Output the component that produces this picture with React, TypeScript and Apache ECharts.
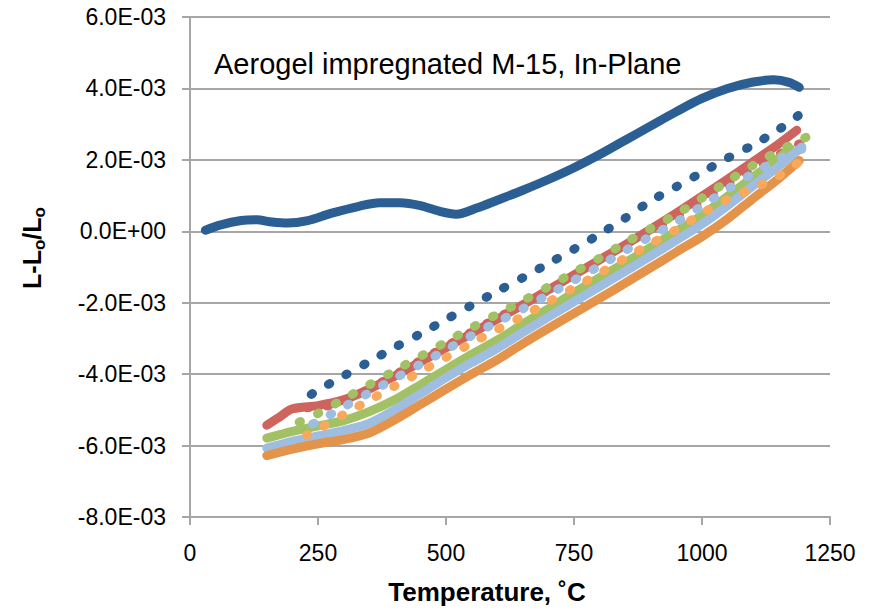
import React, { useEffect, useRef } from "react";
import * as echarts from "echarts";

// ---- Data (values in units of 1e-3) ----
const heat1T = [30, 60, 100, 130, 160, 190, 230, 275, 330, 370, 410, 450, 490, 520, 560, 600, 650, 700, 750, 800, 850, 900, 950, 1000, 1050, 1100, 1140, 1170, 1190];
const heat1V = [0.03, 0.18, 0.3, 0.32, 0.26, 0.23, 0.3, 0.5, 0.7, 0.8, 0.8, 0.72, 0.55, 0.48, 0.65, 0.87, 1.15, 1.45, 1.78, 2.15, 2.55, 2.95, 3.35, 3.72, 4.0, 4.18, 4.24, 4.17, 4.03];

const cool1T = [1188, 1150, 1100, 1050, 1000, 950, 900, 850, 800, 750, 700, 650, 600, 550, 500, 450, 400, 350, 300, 250, 230];
const cool1V = [3.24, 2.85, 2.42, 2.05, 1.65, 1.25, 0.85, 0.37, -0.08, -0.5, -0.9, -1.3, -1.68, -2.07, -2.47, -2.87, -3.25, -3.65, -4.05, -4.45, -4.63];

const heat2T = [150, 175, 200, 250, 300, 350, 400, 450, 500, 550, 600, 650, 700, 750, 800, 850, 900, 950, 1000, 1050, 1100, 1150, 1185];
const heat2V = [-5.43, -5.2, -4.97, -4.88, -4.72, -4.42, -4.05, -3.66, -3.26, -2.86, -2.46, -2.06, -1.64, -1.22, -0.8, -0.38, 0.06, 0.51, 0.98, 1.46, 1.95, 2.45, 2.83];

const cool2T = [1191, 1150, 1100, 1050, 1000, 950, 900, 850, 800, 750, 700, 650, 600, 550, 500, 450, 400, 350, 300, 250, 200];
const cool2V = [2.45, 2.15, 1.75, 1.3, 0.83, 0.38, -0.03, -0.43, -0.85, -1.25, -1.66, -2.06, -2.43, -2.82, -3.22, -3.62, -4.02, -4.42, -4.8, -4.92, -4.95];

const heat3T = [150, 200, 250, 300, 350, 400, 450, 500, 550, 600, 650, 700, 750, 800, 850, 900, 950, 1000, 1050, 1100, 1150, 1172];
const heat3V = [-5.79, -5.6, -5.45, -5.3, -5.05, -4.72, -4.3, -3.87, -3.45, -3.05, -2.6, -2.17, -1.72, -1.3, -0.88, -0.45, 0.0, 0.45, 0.98, 1.52, 2.05, 2.32];

const cool3T = [1203, 1150, 1100, 1050, 1000, 950, 900, 850, 800, 750, 700, 650, 600, 550, 500, 450, 400, 350, 300, 250, 209];
const cool3V = [2.63, 2.25, 1.85, 1.4, 0.93, 0.48, 0.08, -0.32, -0.75, -1.15, -1.55, -1.95, -2.32, -2.7, -3.1, -3.5, -3.9, -4.3, -4.7, -5.1, -5.37];

const heat4T = [150, 200, 250, 300, 350, 400, 450, 500, 550, 600, 650, 700, 750, 800, 850, 900, 950, 1000, 1050, 1100, 1150, 1195];
const heat4V = [-6.07, -5.88, -5.73, -5.58, -5.38, -5.0, -4.55, -4.1, -3.68, -3.28, -2.83, -2.4, -1.97, -1.55, -1.12, -0.69, -0.25, 0.2, 0.72, 1.28, 1.82, 2.36];

const cool4T = [1195, 1150, 1100, 1050, 1000, 950, 900, 850, 800, 750, 700, 650, 600, 550, 500, 450, 400, 350, 300, 250, 215];
const cool4V = [2.3, 2.02, 1.62, 1.18, 0.71, 0.26, -0.14, -0.54, -0.97, -1.37, -1.77, -2.17, -2.54, -2.92, -3.32, -3.72, -4.12, -4.52, -4.92, -5.32, -5.57];

const heat5T = [150, 200, 250, 300, 350, 400, 450, 500, 550, 600, 650, 700, 750, 800, 850, 900, 950, 1000, 1050, 1100, 1150, 1190];
const heat5V = [-6.28, -6.1, -5.95, -5.83, -5.65, -5.28, -4.85, -4.42, -4.0, -3.6, -3.15, -2.72, -2.3, -1.88, -1.45, -1.02, -0.58, -0.15, 0.35, 0.92, 1.48, 1.98];

const cool5T = [1186, 1150, 1100, 1050, 1000, 950, 900, 850, 800, 750, 700, 650, 600, 550, 500, 450, 400, 350, 300, 250, 228];
const cool5V = [1.9, 1.55, 1.2, 0.9, 0.5, 0.05, -0.35, -0.75, -1.18, -1.58, -1.98, -2.38, -2.75, -3.13, -3.53, -3.93, -4.33, -4.73, -5.13, -5.55, -5.71];

const xTickValues = [0, 250, 500, 750, 1000, 1250];
const yTickValues = [-8e-3, -6e-3, -4e-3, -2e-3, 0, 2e-3, 4e-3, 6e-3];

const chartTitle = "Aerogel impregnated M-15, In-Plane";
const xAxisTitle = "Temperature, \u02DAC";

const C = {
  dblue: "#2b5e92",
  red: "#cd645e",
  green: "#a2c164",
  lblue: "#9ebde0",
  orange: "#e4944a",
  lorange: "#f8a95c",
  grid: "#a6a6a6",
};

const seriesDefs = [
  { name: "Heat 1", T: heat1T, V: heat1V, color: C.dblue, dotted: false },
  { name: "Cool 1", T: cool1T, V: cool1V, color: C.dblue, dotted: true },
  { name: "Heat 2", T: heat2T, V: heat2V, color: C.red, dotted: false },
  { name: "Cool 2", T: cool2T, V: cool2V, color: C.red, dotted: true },
  { name: "Heat 3", T: heat3T, V: heat3V, color: C.green, dotted: false },
  { name: "Cool 3", T: cool3T, V: cool3V, color: C.green, dotted: true },
  { name: "Heat 4", T: heat4T, V: heat4V, color: C.lblue, dotted: false },
  { name: "Cool 4", T: cool4T, V: cool4V, color: C.lblue, dotted: true },
  { name: "Heat 5", T: heat5T, V: heat5V, color: C.orange, dotted: false },
  { name: "Cool 5", T: cool5T, V: cool5V, color: C.lorange, dotted: true },
];

function fmtY(v: number): string {
  if (Math.abs(v) < 1e-12) return "0.0E+00";
  const s = v.toExponential(1);
  const [m, e] = s.split("e");
  const sign = e[0];
  const digits = e.slice(1).padStart(2, "0");
  return m + "E" + sign + digits;
}

const FONT = "'Liberation Sans', Arial, sans-serif";

export default function App() {
  const ref = useRef<HTMLDivElement>(null);
  useEffect(() => {
    if (!ref.current) return;
    const chart = echarts.init(ref.current, undefined, { renderer: "svg" });
    const series = seriesDefs.map((s) => ({
      name: s.name,
      type: "line",
      data: s.T.map((t, i) => [t, s.V[i] * 1e-3]),
      showSymbol: false,
      symbol: "none",
      smooth: 0.3,
      silent: true,
      lineStyle: {
        width: 9,
        color: s.color,
        type: s.dotted ? [1.5, 18.5] : "solid",
        cap: "round",
        join: "round",
      },
    }));
    chart.setOption({
      animation: false,
      backgroundColor: "#ffffff",
      grid: { left: 190, right: 47, top: 17, bottom: 97, containLabel: false },
      xAxis: {
        type: "value",
        min: xTickValues[0],
        max: xTickValues[xTickValues.length - 1],
        interval: 250,
        axisLine: { show: true, onZero: false, lineStyle: { color: C.grid, width: 2 } },
        axisTick: { show: true, length: 8, lineStyle: { color: C.grid, width: 2 } },
        splitLine: { show: false },
        axisLabel: {
          color: "#000",
          fontSize: 23,
          fontFamily: FONT,
          margin: 24,
          formatter: (v: number) => String(v),
        },
      },
      yAxis: {
        type: "value",
        min: yTickValues[0],
        max: yTickValues[yTickValues.length - 1],
        interval: 2e-3,
        axisLine: { show: true, onZero: false, lineStyle: { color: C.grid, width: 2 } },
        axisTick: { show: true, length: 8, lineStyle: { color: C.grid, width: 2 } },
        splitLine: { show: true, lineStyle: { color: C.grid, width: 2 } },
        axisLabel: { color: "#000", fontSize: 23, fontFamily: FONT, margin: 24, formatter: fmtY },
      },
      graphic: [
        {
          type: "text",
          left: 214,
          top: 49,
          silent: true,
          style: { text: chartTitle, fontSize: 29, fontFamily: FONT, fill: "#000" },
        },
        {
          type: "text",
          x: 487,
          y: 592,
          silent: true,
          style: {
            text: xAxisTitle,
            fontSize: 26,
            fontWeight: "bold",
            fontFamily: FONT,
            fill: "#000",
            align: "center",
            verticalAlign: "middle",
          },
        },
        {
          type: "text",
          x: 32,
          y: 248,
          rotation: Math.PI / 2,
          silent: true,
          style: {
            text: "L-L{sub|o}/L{sub|o}",
            fontSize: 25,
            fontWeight: "bold",
            fontFamily: FONT,
            fill: "#000",
            align: "center",
            verticalAlign: "middle",
            rich: {
              sub: {
                fontSize: 17,
                fontWeight: "bold",
                fontFamily: FONT,
                fill: "#000",
                lineHeight: 17,
                padding: [14, 0, 0, 0],
              },
            },
          },
        },
      ],
      series,
    });
    return () => chart.dispose();
  }, []);
  return <div ref={ref} style={{ width: 877, height: 614, position: "absolute", left: 0, top: 0 }} />;
}
